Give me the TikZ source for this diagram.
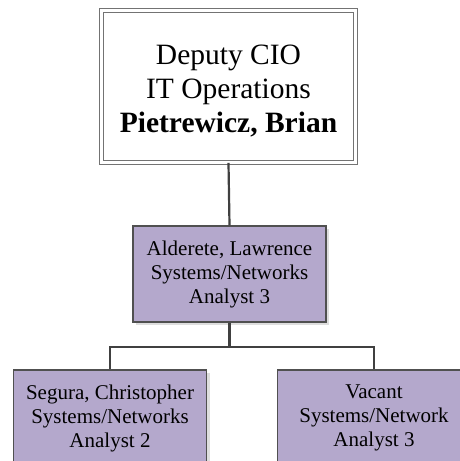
\documentclass[tikz,border=0pt]{standalone}
\usepackage{fontspec}
\setmainfont{Liberation Serif}
\usepackage{tikz}
\usetikzlibrary{positioning,calc,shadows}
\definecolor{cLav}{HTML}{B4A8CC}
\definecolor{cEdge}{HTML}{505050}
\definecolor{cLine}{HTML}{404040}
\definecolor{cShade}{HTML}{C8C8C8}
\tikzset{
  headbox/.style={draw=cEdge!80,double=white,double distance=2.5pt,line width=0.9pt,fill=white,
    minimum width=254pt,minimum height=152pt,align=center,inner sep=0pt,
    font=\fontsize{29.5}{34}\selectfont,
    drop shadow={shadow xshift=2pt,shadow yshift=-2pt,fill=cShade,opacity=0.6}},
  staffbox/.style={draw=cEdge,fill=cLav,line width=1.3pt,minimum width=193pt,minimum height=96pt,
    align=center,inner sep=0pt,font=\fontsize{21}{24}\selectfont,
    drop shadow={shadow xshift=3pt,shadow yshift=-3pt,fill=cShade,opacity=0.6}},
  link/.style={draw=cLine,line width=2.2pt},
}
\begin{document}
\begin{tikzpicture}[x=1pt,y=-1pt]
  \clip (0,0) rectangle (460,461);
  \fill[white] (0,0) rectangle (460,461);
  % boxes
  \node[headbox] (cio) at (228.5,86.5) {\rule{0pt}{28pt}Deputy CIO\\IT Operations\\\textbf{Pietrewicz, Brian}};
  \node[staffbox] (alderete) at (229.5,274) {Alderete, Lawrence\\Systems/Networks\\Analyst 3};
  \node[staffbox] (segura) at (110,418) {Segura, Christopher\\Systems/Networks\\Analyst 2};
  \node[staffbox] (vacant) at (374,418) {Vacant\\Systems/Network\\Analyst 3};
  % connectors
  \coordinate (fork) at ($(alderete.south)+(0,24)$);
  \draw[link] (cio.south) -- (alderete.north);
  \draw[link] (alderete.south) -- (fork);
  \draw[link] (fork) -| (segura.north);
  \draw[link] (fork) -| (vacant.north);
\end{tikzpicture}
\end{document}
